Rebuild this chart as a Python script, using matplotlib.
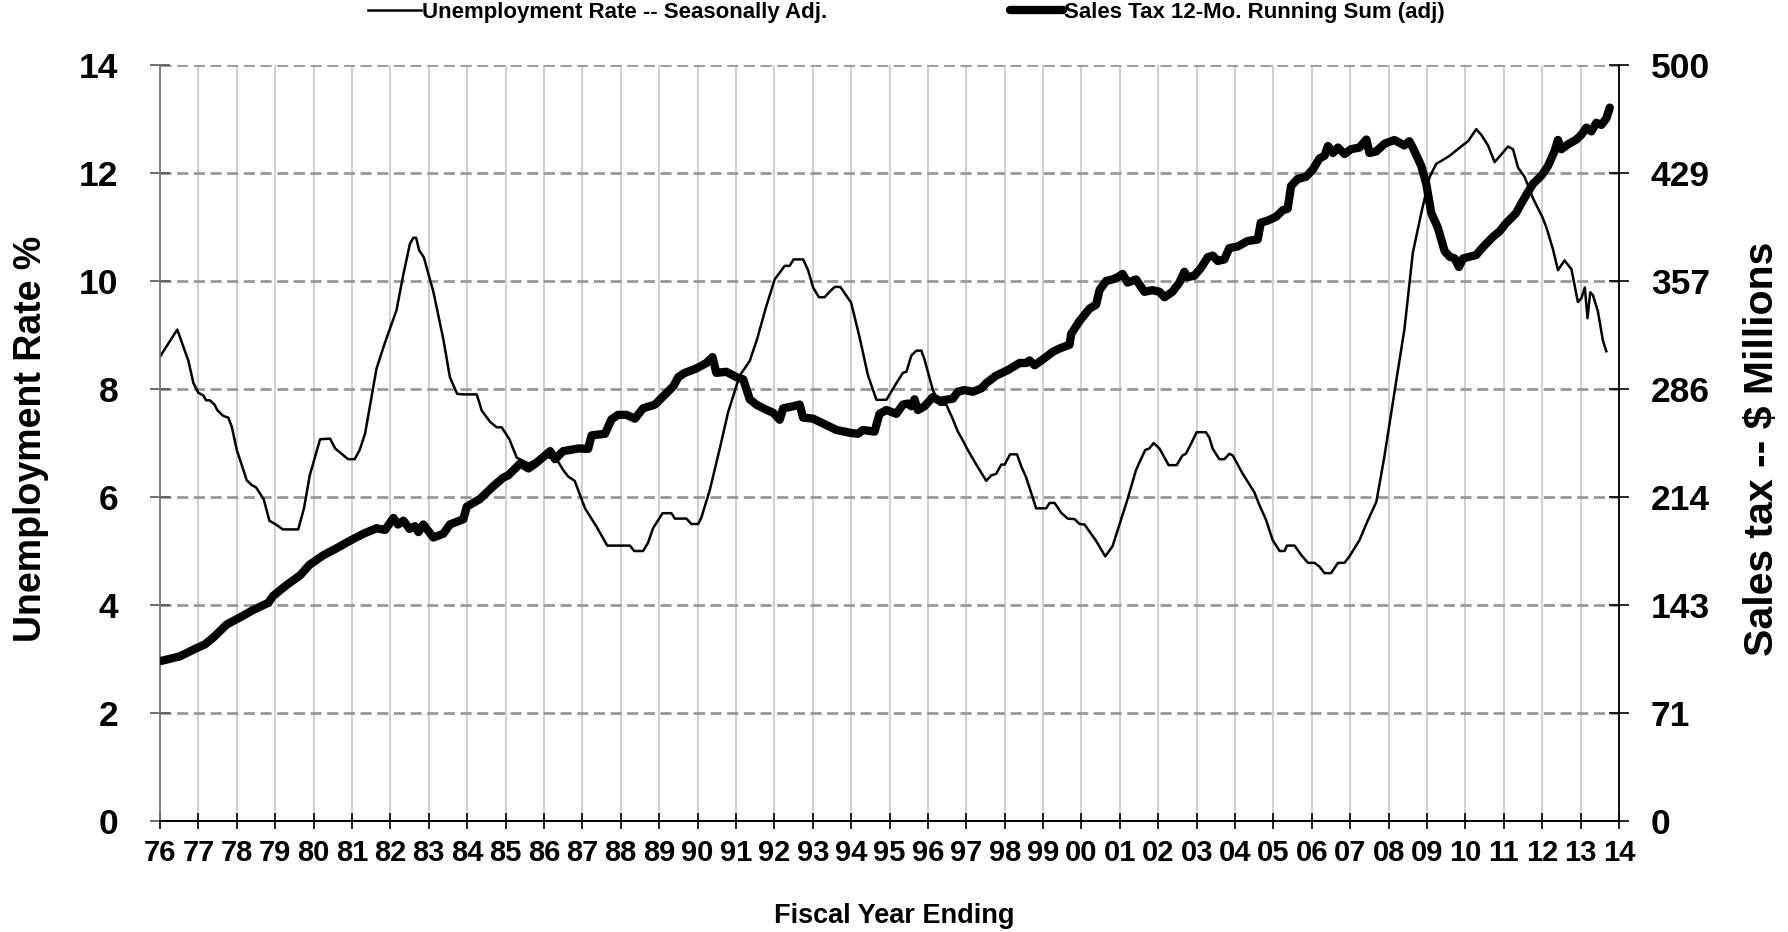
import matplotlib
matplotlib.use("Agg")
import matplotlib.pyplot as plt

plt.rcParams['font.family'] = ['Liberation Sans', 'DejaVu Sans']
plt.rcParams['font.weight'] = 'bold'

# unemployment rate, seasonally adjusted (fiscal year, %)
unemp_years = [
    1976.00, 1976.45, 1976.74, 1976.87, 1977.00, 1977.13, 1977.20, 1977.30, 1977.42, 1977.50,
    1977.65, 1977.78, 1977.87, 1978.00, 1978.26, 1978.39, 1978.50, 1978.70, 1978.85, 1979.00,
    1979.20, 1979.60, 1979.75, 1979.90, 1980.17, 1980.43, 1980.56, 1980.73, 1980.90, 1981.07,
    1981.20, 1981.34, 1981.64, 1981.86, 1982.16, 1982.34, 1982.51, 1982.60, 1982.67, 1982.75,
    1982.87, 1983.12, 1983.38, 1983.55, 1983.74, 1983.90, 1984.25, 1984.38, 1984.60, 1984.77,
    1984.90, 1985.10, 1985.29, 1985.60, 1986.00, 1986.33, 1986.50, 1986.63, 1986.80, 1987.07,
    1987.37, 1987.65, 1988.24, 1988.35, 1988.58, 1988.71, 1988.84, 1989.09, 1989.32, 1989.41,
    1989.71, 1989.84, 1990.02, 1990.10, 1990.32, 1990.58, 1990.80, 1991.10, 1991.36, 1991.55,
    1991.79, 1992.01, 1992.27, 1992.40, 1992.50, 1992.75, 1992.88, 1993.01, 1993.16, 1993.31,
    1993.44, 1993.57, 1993.72, 1994.00, 1994.22, 1994.44, 1994.66, 1994.92, 1995.18, 1995.35,
    1995.44, 1995.57, 1995.70, 1995.83, 1995.91, 1996.13, 1996.30, 1996.48, 1996.65, 1996.78,
    1996.87, 1997.04, 1997.26, 1997.52, 1997.65, 1997.78, 1997.91, 1998.00, 1998.14, 1998.32,
    1998.43, 1998.56, 1998.82, 1999.08, 1999.17, 1999.30, 1999.47, 1999.64, 1999.82, 1999.95,
    2000.08, 2000.38, 2000.62, 2000.81, 2000.99, 2001.20, 2001.42, 2001.66, 2001.77, 2001.88,
    2002.03, 2002.27, 2002.48, 2002.63, 2002.72, 2002.85, 2003.00, 2003.24, 2003.33, 2003.42,
    2003.59, 2003.72, 2003.85, 2003.94, 2004.20, 2004.50, 2004.63, 2004.81, 2004.98, 2005.16,
    2005.29, 2005.35, 2005.55, 2005.72, 2005.90, 2006.07, 2006.20, 2006.33, 2006.50, 2006.68,
    2006.85, 2006.98, 2007.24, 2007.46, 2007.68, 2007.89, 2008.20, 2008.41, 2008.63, 2008.85,
    2009.07, 2009.24, 2009.41, 2009.59, 2009.85, 2010.07, 2010.28, 2010.41, 2010.59, 2010.76,
    2010.93, 2011.11, 2011.24, 2011.37, 2011.54, 2011.76, 2012.00, 2012.11, 2012.28, 2012.41,
    2012.58, 2012.76, 2012.93, 2013.02, 2013.11, 2013.18, 2013.25, 2013.32, 2013.45, 2013.58,
    2013.67,
]
unemp_rate = [
    8.60, 9.10, 8.52, 8.11, 7.93, 7.88, 7.79, 7.79, 7.71, 7.60,
    7.50, 7.47, 7.30, 6.87, 6.31, 6.22, 6.18, 5.96, 5.56, 5.50,
    5.40, 5.40, 5.79, 6.40, 7.07, 7.08, 6.90, 6.80, 6.70, 6.70,
    6.87, 7.17, 8.38, 8.86, 9.46, 10.13, 10.69, 10.80, 10.80, 10.57,
    10.44, 9.80, 8.92, 8.22, 7.91, 7.90, 7.90, 7.60, 7.39, 7.29,
    7.29, 7.07, 6.73, 6.62, 6.75, 6.70, 6.50, 6.38, 6.30, 5.79,
    5.45, 5.10, 5.10, 5.00, 5.00, 5.15, 5.42, 5.70, 5.70, 5.60,
    5.60, 5.50, 5.50, 5.62, 6.13, 6.90, 7.58, 8.25, 8.52, 8.92,
    9.53, 10.03, 10.28, 10.28, 10.40, 10.40, 10.20, 9.88, 9.70, 9.70,
    9.80, 9.89, 9.89, 9.60, 8.96, 8.25, 7.80, 7.80, 8.11, 8.30,
    8.32, 8.62, 8.71, 8.71, 8.55, 7.98, 7.71, 7.71, 7.44, 7.21,
    7.10, 6.87, 6.60, 6.30, 6.40, 6.43, 6.60, 6.60, 6.79, 6.79,
    6.57, 6.36, 5.79, 5.79, 5.89, 5.89, 5.71, 5.60, 5.59, 5.50,
    5.49, 5.19, 4.90, 5.09, 5.49, 5.96, 6.50, 6.87, 6.90, 7.00,
    6.90, 6.59, 6.59, 6.77, 6.80, 6.98, 7.20, 7.20, 7.10, 6.89,
    6.70, 6.70, 6.80, 6.77, 6.43, 6.09, 5.86, 5.57, 5.20, 5.00,
    5.00, 5.10, 5.10, 4.93, 4.78, 4.78, 4.71, 4.59, 4.59, 4.78,
    4.78, 4.90, 5.20, 5.57, 5.91, 6.75, 8.16, 9.10, 10.52, 11.26,
    11.93, 12.17, 12.24, 12.32, 12.47, 12.59, 12.81, 12.71, 12.51, 12.20,
    12.34, 12.49, 12.44, 12.10, 11.93, 11.53, 11.19, 10.99, 10.59, 10.20,
    10.38, 10.22, 9.61, 9.68, 9.88, 9.31, 9.79, 9.74, 9.44, 8.90,
    8.70,
]

# sales tax 12-month running sum, adjusted ($ millions)
tax_years = [
    1976.00, 1976.52, 1976.95, 1977.17, 1977.39, 1977.74, 1978.08, 1978.43, 1978.82, 1978.95,
    1979.30, 1979.65, 1979.90, 1980.25, 1980.60, 1980.95, 1981.30, 1981.64, 1981.86, 1982.08,
    1982.20, 1982.34, 1982.50, 1982.64, 1982.73, 1982.86, 1983.12, 1983.38, 1983.55, 1983.90,
    1983.99, 1984.33, 1984.68, 1984.94, 1985.07, 1985.38, 1985.60, 1985.80, 1986.16, 1986.29,
    1986.50, 1986.90, 1987.15, 1987.24, 1987.59, 1987.76, 1987.93, 1988.15, 1988.37, 1988.58,
    1988.89, 1989.10, 1989.37, 1989.50, 1989.67, 1989.97, 1990.23, 1990.39, 1990.49, 1990.75,
    1991.01, 1991.19, 1991.36, 1991.53, 1991.75, 1991.97, 1992.14, 1992.23, 1992.49, 1992.66,
    1992.75, 1993.01, 1993.27, 1993.62, 1993.96, 1994.18, 1994.31, 1994.61, 1994.74, 1994.92,
    1995.18, 1995.35, 1995.48, 1995.57, 1995.65, 1995.74, 1995.91, 1996.13, 1996.30, 1996.65,
    1996.78, 1996.95, 1997.17, 1997.39, 1997.52, 1997.78, 1998.08, 1998.39, 1998.56, 1998.65,
    1998.78, 1999.00, 1999.26, 1999.43, 1999.69, 1999.73, 1999.95, 2000.21, 2000.38, 2000.47,
    2000.64, 2000.81, 2000.94, 2001.07, 2001.20, 2001.42, 2001.64, 2001.85, 2002.03, 2002.16,
    2002.37, 2002.55, 2002.68, 2002.76, 2002.94, 2003.11, 2003.29, 2003.42, 2003.55, 2003.72,
    2003.85, 2004.07, 2004.33, 2004.59, 2004.67, 2004.85, 2005.07, 2005.24, 2005.37, 2005.46,
    2005.63, 2005.85, 2006.03, 2006.20, 2006.33, 2006.42, 2006.55, 2006.68, 2006.85, 2007.02,
    2007.24, 2007.42, 2007.50, 2007.68, 2007.89, 2008.15, 2008.41, 2008.54, 2008.65, 2008.85,
    2008.98, 2009.11, 2009.28, 2009.46, 2009.59, 2009.72, 2009.83, 2009.94, 2010.11, 2010.28,
    2010.41, 2010.54, 2010.72, 2010.89, 2011.06, 2011.32, 2011.45, 2011.59, 2011.76, 2011.98,
    2012.15, 2012.32, 2012.41, 2012.50, 2012.67, 2012.89, 2013.02, 2013.15, 2013.28, 2013.41,
    2013.54, 2013.67, 2013.76,
]
tax_sum = [
    105.7, 108.9, 114.3, 116.8, 121.4, 130.0, 134.6, 139.6, 144.3, 148.9,
    156.1, 162.5, 169.6, 175.7, 180.4, 185.4, 190.0, 193.6, 192.5, 200.4,
    196.1, 198.6, 193.2, 195.0, 191.1, 196.1, 187.5, 190.0, 196.1, 199.6,
    207.9, 212.9, 221.4, 227.1, 228.6, 236.4, 233.2, 236.8, 244.6, 239.3,
    244.6, 246.4, 246.1, 255.0, 256.1, 265.7, 268.6, 268.6, 266.1, 272.9,
    275.4, 280.7, 287.5, 293.6, 296.4, 299.3, 302.9, 306.8, 296.4, 297.1,
    293.6, 292.1, 278.9, 275.4, 272.5, 270.0, 265.4, 272.9, 274.3, 275.4,
    266.8, 266.1, 262.9, 258.6, 256.8, 256.1, 258.6, 257.5, 269.3, 271.8,
    269.3, 275.4, 276.1, 274.3, 278.9, 271.8, 274.3, 280.4, 277.9, 279.3,
    283.9, 285.0, 283.9, 286.1, 289.6, 294.6, 298.2, 302.9, 302.9, 304.6,
    301.4, 305.4, 310.4, 312.5, 315.0, 322.1, 330.7, 338.9, 341.4, 351.1,
    357.1, 358.2, 359.6, 361.8, 356.1, 358.2, 350.0, 351.1, 350.0, 346.4,
    350.0, 356.1, 363.2, 359.6, 360.7, 365.7, 372.9, 373.9, 370.4, 371.4,
    378.9, 380.0, 383.6, 384.6, 395.7, 397.1, 399.6, 403.9, 405.0, 420.0,
    424.6, 426.1, 431.1, 438.2, 440.0, 446.4, 441.8, 445.4, 441.1, 444.3,
    445.4, 450.7, 441.8, 442.9, 447.9, 450.4, 446.8, 449.6, 444.3, 433.2,
    421.4, 402.1, 392.5, 376.8, 373.2, 372.1, 366.4, 372.1, 373.2, 374.3,
    378.2, 381.8, 386.4, 390.0, 395.4, 402.1, 408.2, 414.3, 421.4, 426.8,
    433.2, 442.9, 450.4, 444.3, 447.5, 450.7, 453.9, 458.6, 456.1, 461.8,
    460.4, 464.6, 471.8,
]

year_ticks = list(range(1976, 2015))
year_labels = ["{:02d}".format(y % 100) for y in year_ticks]
unemp_ticks = [0, 2, 4, 6, 8, 10, 12, 14]
tax_ticks = [500 * k / 7 for k in range(8)]
tax_labels = ["0", "71", "143", "214", "286", "357", "429", "500"]

fig = plt.figure(figsize=(17.88, 9.32), dpi=100)
ax = fig.add_axes([160 / 1788, 1 - 821 / 932, 1459 / 1788, 756 / 932])
ax2 = ax.twinx()

l1, = ax.plot(unemp_years, unemp_rate, color="black", lw=1.8,
              label="Unemployment Rate -- Seasonally Adj.")
l2, = ax2.plot(tax_years, tax_sum, color="black", lw=6,
               solid_capstyle="round", solid_joinstyle="round",
               label="Sales Tax 12-Mo. Running Sum (adj)")

ax.set_xlim(1976, 2014)
ax.set_ylim(0, 14)
ax2.set_ylim(0, 500)

ax.set_xticks(year_ticks)
ax.set_xticklabels(year_labels, fontsize=21, fontweight="bold")
ax.set_yticks(unemp_ticks)
ax.set_yticklabels([str(v) for v in unemp_ticks], fontsize=25.5, fontweight="bold")
ax2.set_yticks(tax_ticks)
ax2.set_yticklabels(tax_labels, fontsize=25.5, fontweight="bold")

ax.tick_params(axis="x", direction="inout", length=12, width=1.2, pad=7, color="black")
ax.tick_params(axis="y", direction="inout", length=14, width=1.2, pad=23, color="#555555")
ax2.tick_params(axis="y", direction="inout", length=14, width=1.2, pad=16, color="black")

ax.grid(axis="y", color="#999999", linestyle=(0, (4, 2)), linewidth=2)
ax.grid(axis="x", color="#cccccc", linestyle="-", linewidth=1.3)
ax.set_axisbelow(True)

for a in (ax, ax2):
    a.spines["top"].set_visible(False)
    a.spines["bottom"].set_color("black")
    a.spines["bottom"].set_linewidth(1.3)
ax.spines["left"].set_color("#777777")
ax.spines["left"].set_linewidth(1.3)
ax2.spines["left"].set_visible(False)
ax2.spines["right"].set_color("black")
ax2.spines["right"].set_linewidth(1.3)
ax.spines["right"].set_visible(False)

fig.text(31 / 1788, 1 - 439 / 932, "Unemployment Rate %", rotation=90,
         ha="center", va="center", fontsize=27, fontweight="bold")
fig.text(1762 / 1788, 1 - 449 / 932, "Sales tax -- $ Millions", rotation=90,
         ha="center", va="center", fontsize=29.5, fontweight="bold")
fig.text(894 / 1788, 1 - 916 / 932, "Fiscal Year Ending",
         ha="center", va="center", fontsize=19.5, fontweight="bold")

fig.legend(handles=[l1, l2], loc="upper left", bbox_to_anchor=(368 / 1788, 0.998),
           ncol=2, frameon=False, fontsize=16, handlelength=2.4, handletextpad=0.05,
           columnspacing=8.2, borderpad=0, borderaxespad=0)

fig.savefig("out.png", dpi=100)
